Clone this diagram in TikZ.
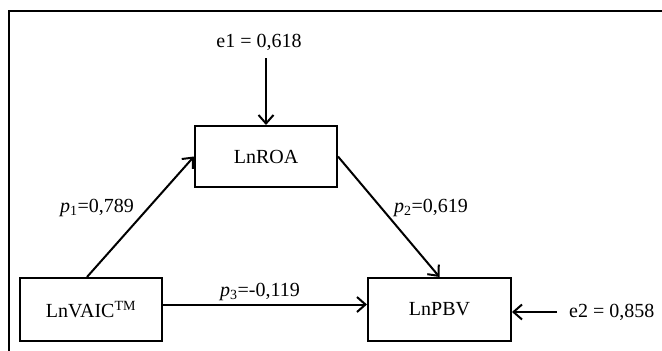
\documentclass[tikz,border=0pt]{standalone}
\usepackage{fontspec}
\setmainfont{Liberation Serif}
\usetikzlibrary{arrows.meta}
\tikzset{
  varbox/.style={draw, line width=2pt, rectangle, inner sep=0pt, font=\fontsize{20}{24}\selectfont},
  pathlabel/.style={inner sep=0pt, font=\fontsize{20}{24}\selectfont},
  effect/.style={line width=2pt, -{Straight Barb[length=8.5pt,width=15pt,line width=2pt]}},
}
\begin{document}
\begin{tikzpicture}[x=1pt, y=-1pt]
  \useasboundingbox (0,0) rectangle (662,351);
  % open frame (top and left edges)
  \draw[line width=2pt] (9,351) -- (9,10.5) -- (662,10.5);

  % variables
  \node[varbox, minimum width=142pt, minimum height=61pt] (roa) at (266,156.5) {LnROA};
  \node[varbox, minimum width=142pt, minimum height=63pt] (vaic) at (91,309.5) {LnVAIC\textsuperscript{TM}};
  \node[varbox, minimum width=143pt, minimum height=63pt] (pbv) at (439.5,309.5) {LnPBV};

  % error terms
  \node[pathlabel] (e1) at (259,42) {e1 = 0,618};
  \coordinate (e1end) at (266,58);
  \node[pathlabel, anchor=west] (e2) at (569,312) {e2 = 0,858};
  \coordinate (e2end) at (557,312);

  % path coefficients
  \node[pathlabel] (p1) at (97,208) {\textit{p}\textsubscript{1}=0,789};
  \node[pathlabel] (p2) at (431,208) {\textit{p}\textsubscript{2}=0,619};
  \node[pathlabel] (p3) at (260,292) {\textit{p}\textsubscript{3}=-0,119};

  % connectors
  \draw[effect] ([xshift=-4pt]vaic.north) -- (roa.west);
  \draw[effect] (roa.east) -- (pbv.north);
  \draw[effect] ([yshift=5pt]vaic.east) -- ([yshift=5pt]pbv.west);
  \draw[effect] (e1end) -- (roa.north);
  \draw[effect, line width=2.6pt] (e2end) -- ([yshift=-2.5pt]pbv.east);
\end{tikzpicture}
\end{document}
